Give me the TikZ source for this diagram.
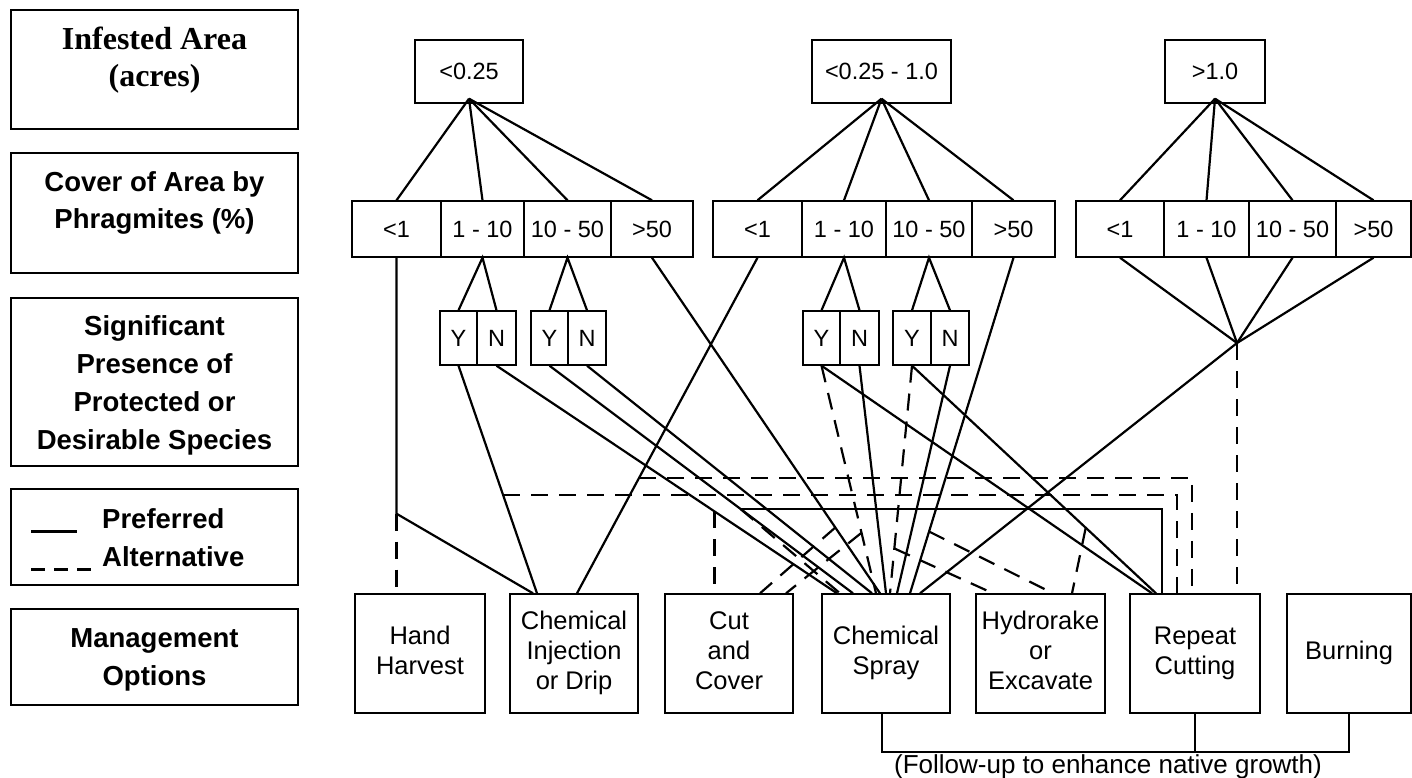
\documentclass[tikz,border=0pt]{standalone}
\usepackage{fontspec}
\setmainfont{Liberation Sans}
\newfontfamily\tnr{Liberation Serif}
\usetikzlibrary{calc}
\begin{document}
\begin{tikzpicture}[x=1pt,y=-1pt,
  lbox/.style={draw, line width=1.7pt, inner sep=0pt, minimum width=287pt},
  ltext/.style={font=\bfseries\fontsize{27.5}{37}\selectfont, align=center, inner sep=0pt},
  obox/.style={draw, line width=1.4pt, inner sep=0pt, minimum height=119pt, align=center, font=\fontsize{25.5}{30}\selectfont},
  cell/.style={draw, line width=1.4pt, inner sep=0pt, minimum height=56pt, text height=17pt, text depth=0pt, font=\fontsize{23.5}{28}\selectfont},
  yn/.style={cell, minimum height=54pt},
  topbox/.style={cell, minimum height=63pt},
  conn/.style={line width=2.2pt},
  alt/.style={line width=2.2pt, dash pattern=on 17pt off 11pt},
]
\useasboundingbox (0,0) rectangle (1412,778);

% ---------- left legend column ----------
\node[lbox, minimum height=119pt] (L1) at (154.5,69.5) {};
\node[ltext, font=\tnr\bfseries\fontsize{32}{37}\selectfont] (L1t) at (154.5,61) {\strut Infested Area\\\strut (acres)};
\node[lbox, minimum height=120pt] (L2) at (154.5,213) {};
\node[ltext] (L2t) at (154.5,203) {\strut Cover of Area by\\\strut Phragmites (\%)};
\node[lbox, minimum height=168pt] (L3) at (154.5,382) {};
\node[ltext, font=\bfseries\fontsize{27.5}{38}\selectfont] (L3t) at (154.5,384.4) {\strut Significant\\\strut Presence of\\\strut Protected or\\\strut Desirable Species};
\node[lbox, minimum height=96pt] (L4) at (154.5,537) {};
\node[anchor=base west, inner sep=0pt, font=\bfseries\fontsize{27.5}{37}\selectfont] (L4a) at (31,528) {\makebox[71pt][l]{\rule[-5pt]{46pt}{3pt}}Preferred};
\node[anchor=base west, inner sep=0pt, font=\bfseries\fontsize{27.5}{37}\selectfont] (L4b) at (31,566) {\makebox[71pt][l]{\rule[-5pt]{14pt}{3pt}\hspace{9pt}\rule[-5pt]{14pt}{3pt}\hspace{9pt}\rule[-5pt]{14pt}{3pt}}Alternative};
\node[lbox, minimum height=96pt] (L5) at (154.5,657) {};
\node[ltext, font=\bfseries\fontsize{27.5}{38}\selectfont] (L5t) at (154.5,658.4) {\strut Management\\\strut Options};

% ---------- infested area ----------
\node[topbox, minimum width=108pt] (T1) at (469,71.5) {<0.25};
\node[topbox, minimum width=139pt] (T2) at (881.5,71.5) {<0.25 - 1.0};
\node[topbox, minimum width=100pt] (T3) at (1215,71.5) {>1.0};

% ---------- cover classes ----------
\node[cell, minimum width=89pt] (a1) at (396.5,229) {<1};
\node[cell, minimum width=83pt] (b1) at (482.5,229) {1 - 10};
\node[cell, minimum width=87pt] (c1) at (567.5,229) {10 - 50};
\node[cell, minimum width=82pt] (d1) at (652,229) {>50};
\node[cell, minimum width=89pt] (a2) at (757.5,229) {<1};
\node[cell, minimum width=84pt] (b2) at (844,229) {1 - 10};
\node[cell, minimum width=86pt] (c2) at (929,229) {10 - 50};
\node[cell, minimum width=83pt] (d2) at (1013.5,229) {>50};
\node[cell, minimum width=88pt] (a3) at (1120,229) {<1};
\node[cell, minimum width=85pt] (b3) at (1206.5,229) {1 - 10};
\node[cell, minimum width=87pt] (c3) at (1292.5,229) {10 - 50};
\node[cell, minimum width=75pt] (d3) at (1373.5,229) {>50};

% ---------- Y / N ----------
\node[yn, minimum width=37pt] (Y1a) at (458.5,338) {Y};
\node[yn, minimum width=39pt] (N1a) at (496.5,338) {N};
\node[yn, minimum width=37pt] (Y1b) at (549.5,338) {Y};
\node[yn, minimum width=38pt] (N1b) at (587,338) {N};
\node[yn, minimum width=37pt] (Y2a) at (821.5,338) {Y};
\node[yn, minimum width=39pt] (N2a) at (859.5,338) {N};
\node[yn, minimum width=38pt] (Y2b) at (912,338) {Y};
\node[yn, minimum width=38pt] (N2b) at (950,338) {N};

% ---------- management options ----------
\node[obox, minimum width=130pt] (HH) at (420,653.5) {\strut Hand\\\strut Harvest};
\node[obox, minimum width=128pt] (CI) at (574,653.5) {\strut Chemical\\\strut Injection\\\strut or Drip};
\node[obox, minimum width=128pt] (CC) at (729,653.5) {\strut Cut\\\strut and\\\strut Cover};
\node[obox, minimum width=128pt] (CS) at (886,653.5) {\strut Chemical\\\strut Spray};
\node[obox, minimum width=129pt] (HY) at (1040.5,653.5) {\strut Hydrorake\\\strut or\\\strut Excavate};
\node[obox, minimum width=130pt] (RC) at (1195,653.5) {\strut Repeat\\\strut Cutting};
\node[obox, minimum width=124pt] (BU) at (1349,653.5) {\strut Burning};

% ---------- connection points ----------
\coordinate (T1c) at ($(T1.south)+(0,-5)$);
\coordinate (T2c) at ($(T2.south)+(0,-5)$);
\coordinate (T3c) at ($(T3.south)+(0,-5)$);
\coordinate (G3J) at (1237,343);

\coordinate (CIj1) at ($(CI.north)+(-41,0)$);
\coordinate (CIy1a) at ($(CI.north)+(-37,0)$);
\coordinate (CIa2) at ($(CI.north)+(3,0)$);
\coordinate (CCh1) at ($(CC.north)+(31,0)$);
\coordinate (CCh2) at ($(CC.north)+(57,0)$);
\coordinate (CSn1a) at ($(CS.north)+(-49,0)$);
\coordinate (CSj2) at ($(CS.north)+(-46,0)$);
\coordinate (CSy1b) at ($(CS.north)+(-33,0)$);
\coordinate (CSn1b) at ($(CS.north)+(-14,0)$);
\coordinate (CSy2a) at ($(CS.north)+(-10,0)$);
\coordinate (CSd1) at ($(CS.north)+(-6,0)$);
\coordinate (CSn2a) at ($(CS.north)+(0,0)$);
\coordinate (CSy2b) at ($(CS.north)+(4,0)$);
\coordinate (CSn2b) at ($(CS.north)+(11,0)$);
\coordinate (CSd2) at ($(CS.north)+(24,0)$);
\coordinate (CSg3) at ($(CS.north)+(34,0)$);
\coordinate (HYh3) at ($(HY.north)+(-47.5,0)$);
\coordinate (HYh4) at ($(HY.north)+(12.5,0)$);
\coordinate (HYh5) at ($(HY.north)+(31.5,0)$);
\coordinate (RCy2a) at ($(RC.north)+(-43,0)$);
\coordinate (RCy2b) at ($(RC.north)+(-39,0)$);
\coordinate (RCj2) at ($(RC.north)+(-33,0)$);
\coordinate (RCj4) at ($(RC.north)+(-18,0)$);
\coordinate (RCj5) at ($(RC.north)+(-3,0)$);

\coordinate (J1) at ($(a1.south)+(0,256)$);
\coordinate (J2) at ($(Y1b.south)!0.629!(CSy1b)$);
\coordinate (J3) at ($(N1a.south)!0.64!(CSn1a)$);
\coordinate (J4) at ($(Y1a.south)!0.568!(CIy1a)$);
\coordinate (J5) at ($(a2.south)!0.656!(CIa2)$);
\coordinate (H1) at ($(d1.south)!0.804!(CSd1)$);
\coordinate (H2) at ($(Y2a.south)!0.734!(CSy2a)$);
\coordinate (H3) at ($(Y2b.south)!0.803!(CSy2b)$);
\coordinate (H4) at ($(d2.south)!0.816!(CSd2)$);
\coordinate (H5) at ($(Y2b.south)!0.712!(RCy2b)$);

% ---------- fans from area to cover ----------
\foreach \c in {a1,b1,c1,d1} \draw[conn] (T1c) -- (\c.north);
\foreach \c in {a2,b2,c2,d2} \draw[conn] (T2c) -- (\c.north);
\foreach \c in {a3,b3,c3,d3} \draw[conn] (T3c) -- (\c.north);

% ---------- cover to Y/N ----------
\draw[conn] (Y1a.north) -- (b1.south) -- (N1a.north);
\draw[conn] (Y1b.north) -- (c1.south) -- (N1b.north);
\draw[conn] (Y2a.north) -- (b2.south) -- (N2a.north);
\draw[conn] (Y2b.north) -- (c2.south) -- (N2b.north);
\foreach \c in {a3,b3,c3,d3} \draw[conn] (\c.south) -- (G3J);

% ---------- preferred ----------
\draw[conn] (a1.south) -- (J1) -- (CIj1);
\draw[conn] (Y1a.south) -- (CIy1a);
\draw[conn] (N1a.south) -- (CSn1a);
\draw[conn] (Y1b.south) -- (CSy1b);
\draw[conn] (N1b.south) -- (CSn1b);
\draw[conn] (d1.south) -- (CSd1);
\draw[conn] (a2.south) -- (CIa2);
\draw[conn] (Y2a.south) -- (RCy2a);
\draw[conn] (N2a.south) -- (CSn2a);
\draw[conn] (Y2b.south) -- (RCy2b);
\draw[conn] (N2b.south) -- (CSn2b);
\draw[conn] (d2.south) -- (CSd2);
\draw[conn] (G3J) -- (CSg3);
\draw[conn] (J2) -| (RCj2);

% ---------- alternatives ----------
\draw[alt] (J1) -- (J1 |- HH.north);
\draw[alt] (J3) -- (J3 |- CC.north);
\draw[alt] (J4) -| (RCj4);
\draw[alt] (J5) -| (RCj5);
\draw[alt] (J2) -- (CSj2);
\draw[alt] (Y2a.south) -- (CSy2a);
\draw[alt] (Y2b.south) -- (CSy2b);
\draw[alt] (H1) -- (CCh1);
\draw[alt] (H2) -- (CCh2);
\draw[alt] (H3) -- (HYh3);
\draw[alt] (H4) -- (HYh4);
\draw[alt] (H5) -- (HYh5);
\draw[alt] (G3J) -- (G3J |- RC.north);

% ---------- follow-up bracket ----------
\coordinate (FL) at ($(CS.south)+(-4,38)$);
\draw[conn] ($(CS.south)+(-4,0)$) -- (FL) -| (BU.south);
\draw[conn] (RC.south) -- (RC.south |- FL);
\node[anchor=base, inner sep=0pt, font=\fontsize{26}{30}\selectfont] (FU) at (1108,773) {(Follow-up to enhance native growth)};
\end{tikzpicture}
\end{document}
